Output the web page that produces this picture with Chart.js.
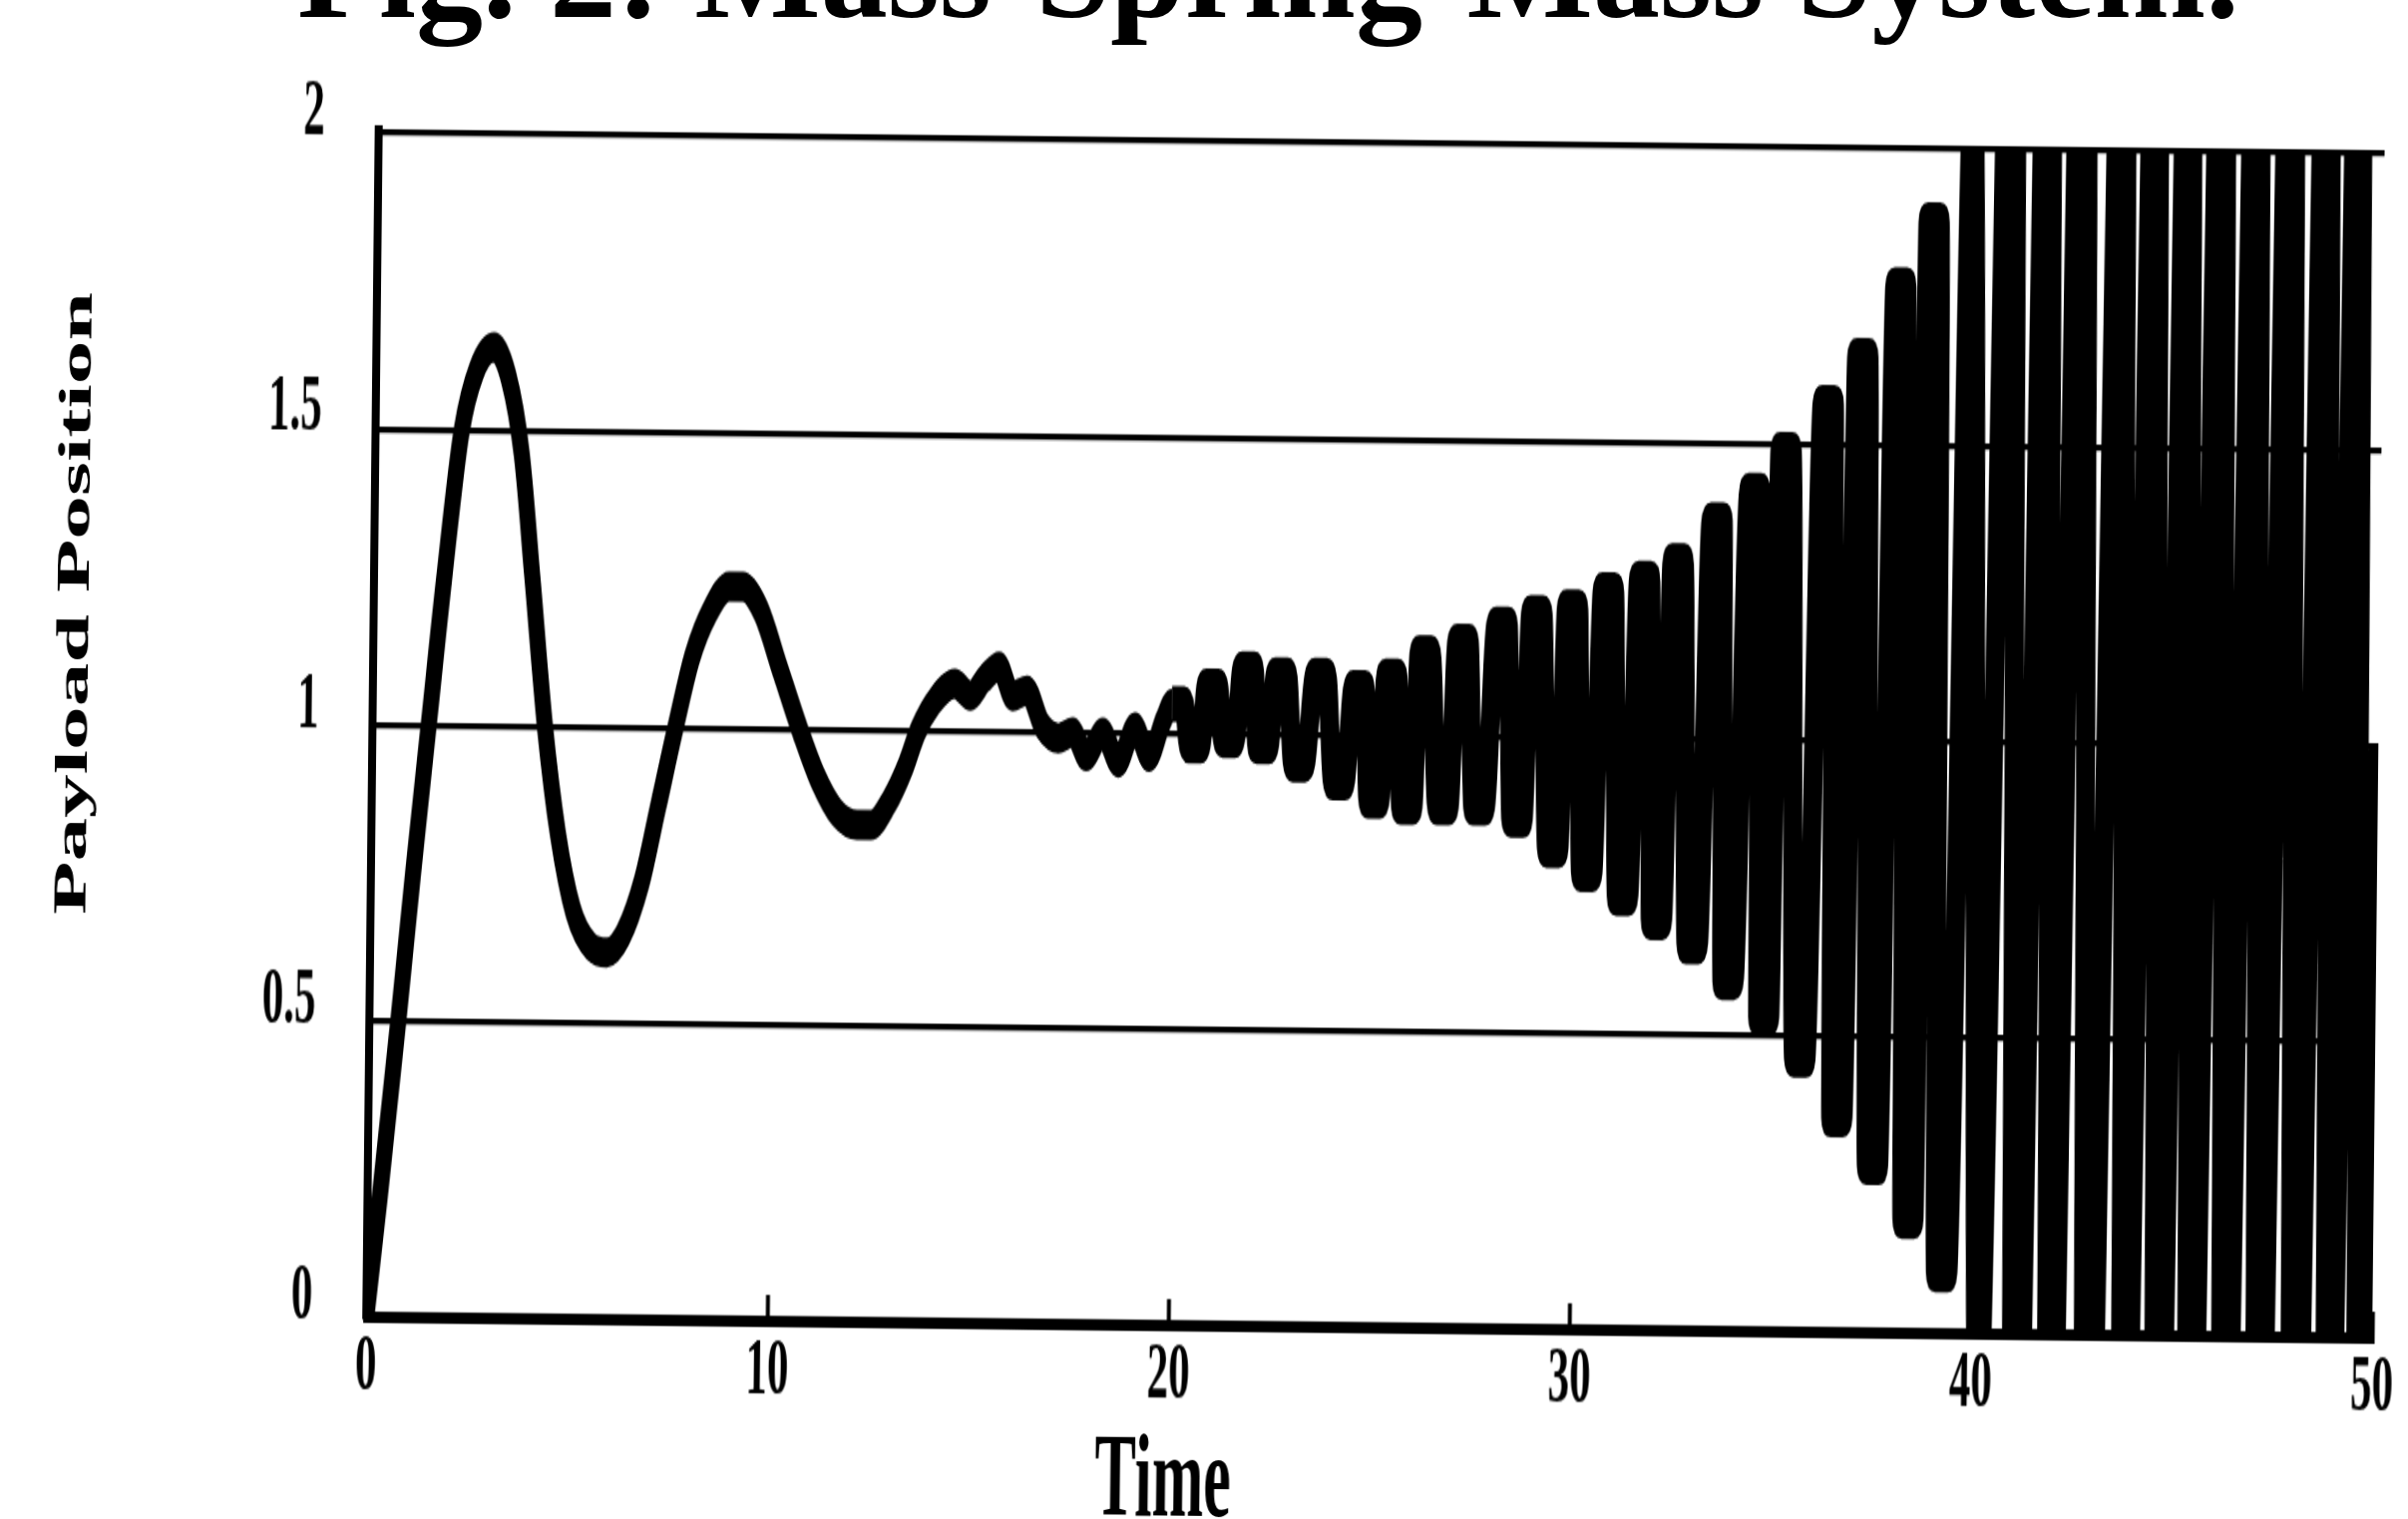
<!DOCTYPE html>
<html>
<head>
<meta charset="utf-8">
<title>Fig. 2: Mass-Spring-Mass System.</title>
<script src="https://cdn.jsdelivr.net/npm/chart.js@4.4.1/dist/chart.umd.min.js"></script>
<style>
    html, body {
        margin: 0;
        padding: 0;
        width: 2414px;
        height: 1523px;
        overflow: hidden;
        background: #fff;
    }
    #caption {
        position: absolute;
        left: 298px;
        top: -95px;
        font: bold 134px/134px "Liberation Serif", serif;
        white-space: nowrap;
        color: #000;
    }
    /* the scanned plot is stretched vertically and a little tilted */
    #plot {
        position: absolute;
        left: 0;
        top: 0;
        width: 2460px;
        height: 802px;
        transform-origin: 0 0;
        transform: rotate(0.6deg) scaleY(1.9);
    }
    #plot canvas {
        position: absolute;
        left: 0;
        top: 0;
    }
    .axis-title {
        position: absolute;
        font-family: "Liberation Serif", serif;
        font-weight: bold;
        color: #000;
        white-space: nowrap;
    }
    #x-title {
        left: 1181px;
        top: 772px;
        font-size: 62px;
        line-height: 62px;
        transform: translate(-50%, -50%);
    }
    #y-title {
        left: 80px;
        top: 318px;
        font-size: 46px;
        line-height: 46px;
        transform: translate(-50%, -50%) rotate(-90deg);
    }
</style>
</head>
<body>
<div id="caption">Fig. 2: Mass-Spring-Mass System.</div>
<div id="plot">
    <canvas id="payload-chart" width="2460" height="802"></canvas>
    <div id="x-title" class="axis-title">Time</div>
    <div id="y-title" class="axis-title">Payload Position</div>
</div>
<script>
// Values: time and payload position along the trace
// (the fast oscillation has flat-topped peaks, so each turning point is read as a short plateau)
const timeValues = [
    0, 0.3, 0.72, 1.05, 1.4, 1.75, 2.15, 2.5, 2.93, 3.3, 3.65, 3.95, 4.3, 4.65, 5.05, 5.5, 5.9, 6.3, 6.75, 7.15,
    7.55, 7.95, 8.4, 8.85, 9.2, 9.65, 10.15, 10.65, 11.1, 11.6, 12.1, 12.45, 12.9, 13.3, 13.6,
    14.0, 14.5, 14.9, 15.25, 15.6, 15.95, 16.3, 16.7, 17.1, 17.45, 17.8, 18.2, 18.6, 19.0, 19.37, 19.7,
    19.92, 20.22, 20.35, 20.65, 20.77, 21.07, 21.2, 21.5, 21.66, 21.96, 22.05, 22.35, 22.49, 22.79,
    22.95, 23.25, 23.47, 23.77, 23.95, 24.25, 24.43, 24.73, 24.83, 25.13, 25.24, 25.54, 25.65, 25.95,
    26.07, 26.37, 26.55, 26.85, 27.01, 27.31, 27.45, 27.75, 27.98, 28.28, 28.4, 28.7, 28.84, 29.14,
    29.3, 29.6, 29.73, 30.03, 30.15, 30.45, 30.62, 30.92, 31.05, 31.35, 31.52, 31.82, 31.9, 32.2,
    32.35, 32.65, 32.8, 33.1, 33.31, 33.61, 33.7, 34.0, 34.24, 34.54, 34.6, 34.9, 35.01, 35.31,
    35.51, 35.81, 36.05, 36.35, 36.45, 36.75, 36.9, 37.2, 37.35, 37.65, 37.83, 38.13, 38.25, 38.55,
    38.64, 38.94, 39.1, 39.4, 39.72,
    40.2, 40.69, 41.15, 41.6, 42.0, 42.45, 42.95, 43.46, 43.85, 44.27, 44.7, 45.1, 45.5, 45.93,
    46.35, 46.8, 47.2, 47.65, 48.1, 48.55, 48.95, 49.35, 49.7, 50
];
const payloadPosition = [
    0, 0.2, 0.5, 0.75, 1.0, 1.25, 1.5, 1.6, 1.64, 1.59, 1.46, 1.25, 1.0, 0.82, 0.69, 0.63, 0.62, 0.65, 0.74, 0.87,
    1.0, 1.12, 1.2, 1.24, 1.24, 1.2, 1.1, 1.0, 0.92, 0.86, 0.84, 0.84, 0.88, 0.94, 1.0,
    1.05, 1.08, 1.06, 1.09, 1.11, 1.06, 1.07, 1.01, 0.99, 1.0, 0.96, 1.0, 0.95, 1.01, 0.96, 1.02,
    1.05, 1.05, 0.98, 0.98, 1.08, 1.08, 0.99, 0.99, 1.11, 1.11, 0.98, 0.98, 1.1, 1.1,
    0.95, 0.95, 1.1, 1.1, 0.92, 0.92, 1.08, 1.08, 0.89, 0.89, 1.1, 1.1, 0.88, 0.88,
    1.14, 1.14, 0.88, 0.88, 1.16, 1.16, 0.88, 0.88, 1.19, 1.19, 0.86, 0.86, 1.21, 1.21,
    0.81, 0.81, 1.22, 1.22, 0.77, 0.77, 1.25, 1.25, 0.73, 0.73, 1.27, 1.27, 0.69, 0.69,
    1.3, 1.3, 0.65, 0.65, 1.37, 1.37, 0.59, 0.59, 1.42, 1.42, 0.53, 0.53, 1.49, 1.49,
    0.46, 0.46, 1.57, 1.57, 0.36, 0.36, 1.65, 1.65, 0.28, 0.28, 1.77, 1.77, 0.19, 0.19,
    1.88, 1.88, 0.1, 0.1, 2.15,
    -0.2, 2.8, -0.8, 2.8, -0.7, 2.9, -0.8, 2.8, -0.8, 2.7, -0.9, 2.8, -0.8, 2.9,
    -0.8, 2.8, -0.8, 2.8, -0.9, 2.8, -0.8, 2.8, -0.8, 1.0
];

// Tick labels of both axes
const timeTicks = [0, 10, 20, 30, 40, 50];
const positionTicks = [0, 0.5, 1, 1.5, 2];

class PayloadChart {
    constructor(canvasId) {
        this.canvas = document.getElementById(canvasId);
        this.font = { family: '"Liberation Serif", serif', weight: 'bold', size: 43 };
    }

    // Method to pair the time and position arrays into points
    buildPoints() {
        return timeValues.map((t, i) => ({ x: t, y: payloadPosition[i] }));
    }

    // Method to render the line chart
    render() {
        new Chart(this.canvas.getContext('2d'), {
            type: 'line',
            data: {
                datasets: [{
                    data: this.buildPoints(),
                    borderColor: '#000',
                    borderWidth: 16,
                    pointRadius: 0,
                    cubicInterpolationMode: 'monotone',
                    borderJoinStyle: 'round',
                    fill: false,
                    // the scan smears the fast oscillation into a heavier trace
                    segment: { borderWidth: ctx => (ctx.p0.parsed.x >= 19.9 ? 19 : 16) }
                }]
            },
            options: {
                responsive: false,
                animation: false,
                devicePixelRatio: 1,
                layout: { padding: { left: 0, top: 68, right: 68, bottom: 0 } },
                plugins: {
                    legend: { display: false },
                    tooltip: { enabled: false }
                },
                scales: {
                    x: {
                        type: 'linear',
                        min: 0,
                        max: 50,
                        afterBuildTicks: scale => { scale.ticks = timeTicks.map(v => ({ value: v })); },
                        afterFit: scale => { scale.height = 109; },
                        grid: {
                            drawOnChartArea: false,
                            drawTicks: true,
                            tickLength: -14,   // small ticks pointing into the plot
                            tickWidth: 4,
                            tickColor: '#000'
                        },
                        border: { display: true, color: '#000', width: 6 },
                        ticks: { color: '#000', font: this.font, padding: 15, maxRotation: 0, callback: v => String(v) }
                    },
                    y: {
                        min: 0,
                        max: 2,
                        afterBuildTicks: scale => { scale.ticks = positionTicks.map(v => ({ value: v })); },
                        afterFit: scale => {
                            scale.width = 381;
                            // the label gap should not push the plot down
                            scale.paddingTop = 30;
                            scale.paddingBottom = 30;
                        },
                        grid: { color: '#000', lineWidth: 3.2, drawTicks: false },
                        border: { display: true, color: '#000', width: 8 },
                        ticks: { color: '#000', font: this.font, padding: 54, labelOffset: -10, callback: v => String(v) }
                    }
                }
            }
        });
    }
}

const payloadChart = new PayloadChart('payload-chart');
payloadChart.render();
</script>
</body>
</html>
